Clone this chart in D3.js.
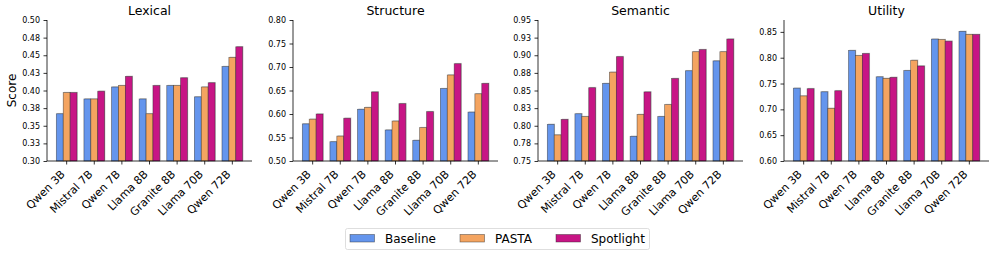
<!DOCTYPE html>
<html>
<head>
<meta charset="utf-8">
<script src="https://cdn.jsdelivr.net/npm/d3@7"></script>
<style>
  body { margin: 0; background: #fff; }
  svg { font-family: "DejaVu Sans", sans-serif; }
</style>
</head>
<body>
<svg id="chart" width="996" height="256"></svg>
<script>
// models on the x axis
const models = ["Qwen 3B", "Mistral 7B", "Qwen 7B", "Llama 8B", "Granite 8B", "Llama 70B", "Qwen 72B"];
const methods = ["Baseline", "PASTA", "Spotlight"];
const colors = ["#6495ED", "#F4A460", "#C71585"];

// scores, one array per method and panel
const lexicalBaseline  = [0.367, 0.388, 0.405, 0.388, 0.407, 0.391, 0.434];
const lexicalPasta     = [0.397, 0.388, 0.407, 0.367, 0.407, 0.405, 0.447];
const lexicalSpotlight = [0.397, 0.399, 0.420, 0.407, 0.418, 0.411, 0.462];

const structureBaseline  = [0.579, 0.541, 0.610, 0.566, 0.544, 0.654, 0.604];
const structurePasta     = [0.589, 0.553, 0.614, 0.585, 0.571, 0.683, 0.643];
const structureSpotlight = [0.600, 0.591, 0.647, 0.622, 0.605, 0.707, 0.665];

const semanticBaseline  = [0.802, 0.817, 0.860, 0.785, 0.813, 0.878, 0.892];
const semanticPasta     = [0.787, 0.813, 0.876, 0.816, 0.830, 0.905, 0.905];
const semanticSpotlight = [0.809, 0.854, 0.898, 0.848, 0.867, 0.908, 0.923];

const utilityBaseline  = [0.741, 0.734, 0.814, 0.763, 0.775, 0.836, 0.851];
const utilityPasta     = [0.726, 0.702, 0.804, 0.760, 0.795, 0.835, 0.845];
const utilitySpotlight = [0.740, 0.736, 0.808, 0.762, 0.784, 0.832, 0.845];

// y ticks and their printed labels
const lexicalTicks = [0.30, 0.325, 0.35, 0.375, 0.40, 0.425, 0.45, 0.475, 0.50];
const lexicalLabels = ["0.30", "0.33", "0.35", "0.38", "0.40", "0.43", "0.45", "0.48", "0.50"];
const structureTicks = [0.50, 0.55, 0.60, 0.65, 0.70, 0.75, 0.80];
const structureLabels = ["0.50", "0.55", "0.60", "0.65", "0.70", "0.75", "0.80"];
const semanticTicks = [0.75, 0.775, 0.80, 0.825, 0.85, 0.875, 0.90, 0.925, 0.95];
const semanticLabels = ["0.75", "0.78", "0.80", "0.83", "0.85", "0.88", "0.90", "0.93", "0.95"];
const utilityTicks = [0.60, 0.65, 0.70, 0.75, 0.80, 0.85];
const utilityLabels = ["0.60", "0.65", "0.70", "0.75", "0.80", "0.85"];

const panels = [
  {title: "Lexical", series: [lexicalBaseline, lexicalPasta, lexicalSpotlight], domain: [0.30, 0.50], ticks: lexicalTicks, labels: lexicalLabels, left: 47},
  {title: "Structure", series: [structureBaseline, structurePasta, structureSpotlight], domain: [0.50, 0.80], ticks: structureTicks, labels: structureLabels, left: 293},
  {title: "Semantic", series: [semanticBaseline, semanticPasta, semanticSpotlight], domain: [0.75, 0.95], ticks: semanticTicks, labels: semanticLabels, left: 538},
  {title: "Utility", series: [utilityBaseline, utilityPasta, utilitySpotlight], domain: [0.60, 0.873], ticks: utilityTicks, labels: utilityLabels, left: 784}
];

const svg = d3.select("#chart");
const plotTop = 20, plotBottom = 161, plotWidth = 205;

panels.forEach(function(p, pi) {
  let g = svg.append("g");

  let x = d3.scaleBand()
      .domain(models)
      .range([p.left, p.left + plotWidth])
      .paddingInner(0.25)
      .paddingOuter(0.3375);
  let xSub = d3.scaleBand()
      .domain(methods)
      .range([0, x.bandwidth()]);
  let y = d3.scaleLinear()
      .domain(p.domain)
      .range([plotBottom, plotTop]);

  // bars
  methods.forEach(function(m, mi) {
    let vals = p.series[mi];
    let grp = g.append("g");
    // faint shadow behind each bar
    grp.selectAll("rect.shadow")
        .data(vals)
        .enter().append("rect")
        .attr("class", "shadow")
        .attr("x", (d, i) => x(models[i]) + xSub(m) + 0.8)
        .attr("y", d => y(d) - 0.8)
        .attr("width", xSub.bandwidth())
        .attr("height", d => plotBottom - y(d))
        .attr("fill", "#999")
        .attr("opacity", 0.45);
    grp.selectAll("rect.bar")
        .data(vals)
        .enter().append("rect")
        .attr("class", "bar")
        .attr("x", (d, i) => x(models[i]) + xSub(m))
        .attr("y", d => y(d))
        .attr("width", xSub.bandwidth())
        .attr("height", d => plotBottom - y(d))
        .attr("fill", colors[mi])
        .attr("stroke", "rgba(40,40,40,0.6)")
        .attr("stroke-width", 0.7);
  });

  // y axis
  let yAxis = d3.axisLeft(y)
      .tickValues(p.ticks)
      .tickFormat((d, i) => p.labels[i])
      .tickSize(3.5)
      .tickPadding(3.5);
  let ya = g.append("g")
      .attr("transform", "translate(" + p.left + ",0)")
      .call(yAxis);
  ya.selectAll("text").attr("font-size", 8).attr("fill", "#000").attr("font-family", "DejaVu Sans, sans-serif");
  ya.select(".domain").attr("d", "M0," + plotBottom + "V" + plotTop).attr("stroke", "#000").attr("stroke-width", 0.8);
  ya.selectAll(".tick line").attr("stroke", "#000").attr("stroke-width", 0.8);

  // x axis
  let xAxis = d3.axisBottom(x).tickSize(3.5).tickPadding(2);
  let xa = g.append("g")
      .attr("transform", "translate(0," + plotBottom + ")")
      .call(xAxis);
  xa.select(".domain").attr("d", "M" + p.left + ",0H" + (p.left + plotWidth)).attr("stroke", "#000").attr("stroke-width", 0.8);
  xa.selectAll(".tick line").attr("stroke", "#000").attr("stroke-width", 0.8);
  xa.selectAll("text")
      .attr("font-size", 11)
      .attr("fill", "#000")
      .attr("font-family", "DejaVu Sans, sans-serif")
      .attr("text-anchor", "end")
      .attr("y", 0)
      .attr("dy", 0)
      .attr("transform", "translate(-1,14) rotate(-45)");

  // title
  g.append("text")
      .attr("x", p.left + plotWidth / 2)
      .attr("y", 15)
      .attr("text-anchor", "middle")
      .attr("font-size", 12.5)
      .text(p.title);

  if (pi == 0) {
    g.append("text")
        .attr("transform", "translate(16," + ((plotTop + plotBottom) / 2) + ") rotate(-90)")
        .attr("text-anchor", "middle")
        .attr("font-size", 12)
        .text("Score");
  }
});

// legend
let legend = svg.append("g");
legend.append("rect")
    .attr("x", 345.5).attr("y", 228.5)
    .attr("width", 304).attr("height", 21)
    .attr("rx", 2)
    .attr("fill", "#fff")
    .attr("stroke", "#d5d5d5")
    .attr("stroke-width", 0.8);
const legendX = [350, 460, 556];
methods.forEach(function(m, i) {
  legend.append("rect")
      .attr("x", legendX[i]).attr("y", 234.5)
      .attr("width", 24.5).attr("height", 7.5)
      .attr("fill", colors[i])
      .attr("stroke", "rgba(40,40,40,0.6)")
      .attr("stroke-width", 0.7);
  legend.append("text")
      .attr("x", legendX[i] + 35)
      .attr("y", 242.5)
      .attr("font-size", 12)
      .text(m);
});
</script>
</body>
</html>
